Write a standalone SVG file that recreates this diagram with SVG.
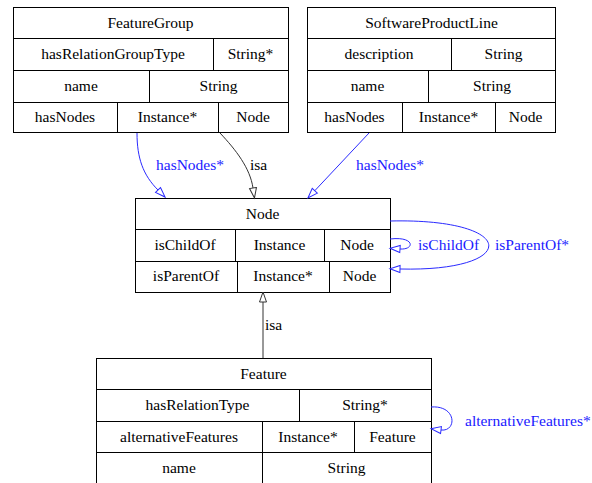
<svg xmlns="http://www.w3.org/2000/svg" width="592" height="483" viewBox="0 0 592 483">
<style>
  .box { fill: #ffffff; stroke: #000000; stroke-width: 1; }
  .ln { stroke: #000000; stroke-width: 1; fill: none; }
  text { font-family: 'Liberation Serif', 'DejaVu Serif', serif; font-size: 15.5px; }
  .t { fill: #000000; text-anchor: middle; }
  .blue { stroke: #2a2aff; stroke-width: 1; fill: none; }
  .dark { stroke: #333333; stroke-width: 1; fill: none; }
  .bt { fill: #1a1aff; }
  .kt { fill: #000000; }
</style>
<defs>
  <marker id="ab" markerUnits="userSpaceOnUse" markerWidth="12" markerHeight="9" refX="0" refY="3.5" orient="auto" overflow="visible">
    <path d="M0,0 L10,3.5 L0,7 Z" fill="none" stroke="#2a2aff" stroke-width="1"/>
  </marker>
  <marker id="ak" markerUnits="userSpaceOnUse" markerWidth="12" markerHeight="9" refX="0" refY="3.5" orient="auto" overflow="visible">
    <path d="M0,0 L10,3.5 L0,7 Z" fill="none" stroke="#333333" stroke-width="1"/>
  </marker>
</defs>
<rect width="592" height="483" fill="#ffffff"/>

<g id="FeatureGroup">
  <rect class="box" x="13.5" y="7.5" width="275" height="125"/>
  <path class="ln" d="M13.5,38.5 H288.5 M13.5,70.5 H288.5 M13.5,102.5 H288.5 M213.5,38.5 V70.5 M149.5,70.5 V102.5 M117.5,102.5 V132.5 M218.5,102.5 V132.5"/>
  <text class="t" x="150.5" y="28">FeatureGroup</text>
  <text class="t" x="113" y="59">hasRelationGroupType</text>
  <text class="t" x="250.5" y="59">String*</text>
  <text class="t" x="81" y="91">name</text>
  <text class="t" x="218.5" y="91">String</text>
  <text class="t" x="65" y="122">hasNodes</text>
  <text class="t" x="167.5" y="122">Instance*</text>
  <text class="t" x="253" y="122">Node</text>
</g>

<g id="SoftwareProductLine">
  <rect class="box" x="307.5" y="7.5" width="248" height="125"/>
  <path class="ln" d="M307.5,38.5 H555.5 M307.5,70.5 H555.5 M307.5,102.5 H555.5 M451.5,38.5 V70.5 M428.5,70.5 V102.5 M402.5,102.5 V132.5 M495.5,102.5 V132.5"/>
  <text class="t" x="431.5" y="28">SoftwareProductLine</text>
  <text class="t" x="379" y="59">description</text>
  <text class="t" x="503.5" y="59">String</text>
  <text class="t" x="367.5" y="91">name</text>
  <text class="t" x="492" y="91">String</text>
  <text class="t" x="354.5" y="122">hasNodes</text>
  <text class="t" x="448.5" y="122">Instance*</text>
  <text class="t" x="525.5" y="122">Node</text>
</g>

<g id="Node">
  <rect class="box" x="135.5" y="198.5" width="255" height="94"/>
  <path class="ln" d="M135.5,229.5 H390.5 M135.5,261.5 H390.5 M235.5,229.5 V261.5 M324.5,229.5 V261.5 M237.5,261.5 V292.5 M329.5,261.5 V292.5"/>
  <text class="t" x="262.5" y="219">Node</text>
  <text class="t" x="185" y="250">isChildOf</text>
  <text class="t" x="279.5" y="250">Instance</text>
  <text class="t" x="357" y="250">Node</text>
  <text class="t" x="186" y="281">isParentOf</text>
  <text class="t" x="283" y="281">Instance*</text>
  <text class="t" x="359.5" y="281">Node</text>
</g>

<g id="Feature">
  <rect class="box" x="96.5" y="358.5" width="335" height="140"/>
  <path class="ln" d="M96.5,389.5 H431.5 M96.5,421.5 H431.5 M96.5,452.5 H431.5 M299.5,389.5 V421.5 M262.5,421.5 V452.5 M354.5,421.5 V452.5 M262.5,452.5 V498.5"/>
  <text class="t" x="263.5" y="379">Feature</text>
  <text class="t" x="197.5" y="410">hasRelationType</text>
  <text class="t" x="365" y="410">String*</text>
  <text class="t" x="179" y="442">alternativeFeatures</text>
  <text class="t" x="308" y="442">Instance*</text>
  <text class="t" x="392.5" y="442">Feature</text>
  <text class="t" x="179" y="473">name</text>
  <text class="t" x="346.5" y="473">String</text>
</g>

<g id="connectors">
  <path class="blue" d="M137,133 C137,158 143,175 158,190" marker-end="url(#ab)"/>
  <text class="bt" x="156" y="170">hasNodes*</text>
  <path class="dark" d="M220,133 C236,150 250,168 253,188" marker-end="url(#ak)"/>
  <text class="kt" x="250" y="170">isa</text>
  <path class="blue" d="M369,133 L314.8,190.7" marker-end="url(#ab)"/>
  <text class="bt" x="356" y="170">hasNodes*</text>
  <path class="blue" d="M390,239 C415,236 415,250 400,249" marker-end="url(#ab)"/>
  <text class="bt" x="418" y="250">isChildOf</text>
  <path class="blue" d="M390,221 C520,218 520,272 400,269" marker-end="url(#ab)"/>
  <text class="bt" x="495" y="250">isParentOf*</text>
  <path class="dark" d="M263,358 L263,302" marker-end="url(#ak)"/>
  <text class="kt" x="265" y="330">isa</text>
  <path class="blue" d="M431,407 C457,405 457,432 441,430" marker-end="url(#ab)"/>
  <text class="bt" x="465" y="426">alternativeFeatures*</text>
</g>
</svg>
